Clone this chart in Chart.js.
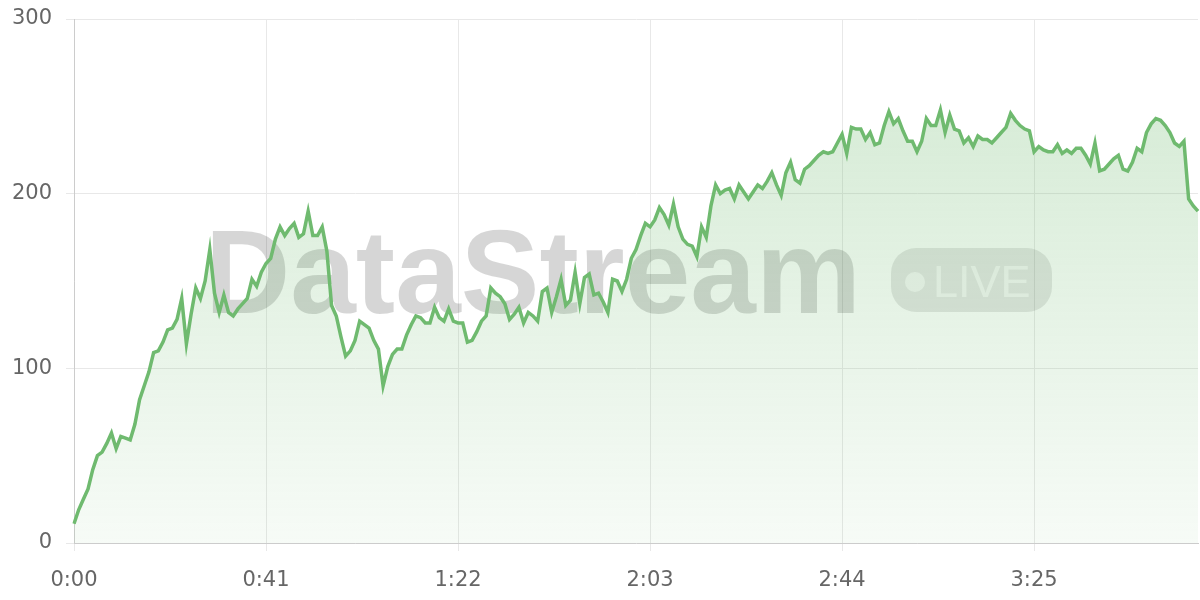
<!DOCTYPE html>
<html>
<head>
<meta charset="utf-8">
<script src="https://cdn.jsdelivr.net/npm/chart.js@4.4.1/dist/chart.umd.min.js"></script>
<style>
  body { margin: 0; background: #fff; }
  #wrap { width: 1200px; height: 600px; position: relative; }
</style>
</head>
<body>
<div id="wrap"><canvas id="chart"></canvas></div>
<script>
// one reading per second, 0:00 .. 4:00
const rateValues = [
  11, 19, 25, 31, 42, 50, 52, 57, 63, 54,
  61, 60, 59, 68, 82, 90, 98, 109, 110, 115,
  122, 123, 128, 140, 114, 131, 146, 140, 150, 168,
  143, 132, 142, 132, 130, 134, 137, 140, 151, 147,
  155, 160, 163, 174, 181, 176, 180, 183, 175, 177,
  190, 176, 176, 181, 167, 136, 130, 118, 107, 110,
  116, 127, 125, 123, 116, 111, 90, 101, 108, 111,
  111, 119, 125, 130, 129, 126, 126, 135, 129, 127,
  134, 127, 126, 126, 115, 116, 121, 127, 130, 146,
  143, 141, 137, 128, 131, 135, 126, 132, 130, 127,
  144, 146, 132, 141, 151, 136, 139, 155, 137, 152,
  154, 142, 143, 138, 132, 151, 150, 144, 151, 163,
  168, 176, 183, 181, 185, 192, 188, 182, 194, 181,
  174, 171, 170, 164, 181, 175, 193, 205, 200, 202,
  203, 197, 205, 201, 197, 201, 205, 203, 207, 212,
  205, 199, 212, 218, 208, 206, 214, 216, 219, 222,
  224, 223, 224, 229, 234, 223, 238, 237, 237, 231,
  235, 228, 229, 239, 247, 240, 243, 236, 230, 230,
  224, 230, 243, 239, 239, 248, 235, 245, 237, 236,
  229, 232, 227, 233, 231, 231, 229, 232, 235, 238,
  246, 242, 239, 237, 236, 224, 227, 225, 224, 224,
  228, 223, 225, 223, 226, 226, 222, 217, 229, 213,
  214, 217, 220, 222, 214, 213, 218, 226, 224, 235,
  240, 243, 242, 239, 235, 229, 227, 230, 197, 193,
  190
];

const timeLabels = [];
for (let s = 0; s < rateValues.length; s++) {
  timeLabels.push(Math.floor(s / 60) + ':' + String(s % 60).padStart(2, '0'));
}

const yTicks = [0, 100, 200, 300];
const watermarkText = 'DataStream';
const badgeText = 'LIVE';

const lineColor = '#6fba6f';
const tickFont = { family: 'DejaVu Sans', size: 21 };

const watermark = {
  id: 'watermark',
  beforeDatasetsDraw(chart) {
    const ctx = chart.ctx;
    ctx.save();
    ctx.font = 'bold 118px "Liberation Sans"';
    ctx.fillStyle = 'rgba(0,0,0,0.16)';
    ctx.textBaseline = 'alphabetic';
    ctx.fillText(watermarkText, 205, 313);

    // LIVE badge
    const bx = 891, by = 248, bw = 161, bh = 64;
    ctx.fillStyle = 'rgba(0,0,0,0.1)';
    ctx.beginPath();
    ctx.roundRect(bx, by, bw, bh, 25);
    ctx.fill();
    ctx.fillStyle = 'rgba(255,255,255,0.65)';
    ctx.beginPath();
    ctx.arc(bx + 24, by + 34, 10, 0, Math.PI * 2);
    ctx.fill();
    ctx.font = '45px "Liberation Sans"';
    ctx.fillText(badgeText, bx + 42, by + 49);
    ctx.restore();
  }
};

new Chart(document.getElementById('chart'), {
  type: 'line',
  data: {
    labels: timeLabels,
    datasets: [{
      data: rateValues,
      borderColor: lineColor,
      borderWidth: 3.5,
      pointRadius: 0,
      tension: 0,
      fill: 'origin',
      backgroundColor: (c) => {
        const area = c.chart.chartArea;
        if (!area) return 'rgba(111,186,111,0.2)';
        const g = c.chart.ctx.createLinearGradient(0, area.top, 0, area.bottom);
        g.addColorStop(0, 'rgba(111,186,111,0.32)');
        g.addColorStop(1, 'rgba(111,186,111,0.06)');
        return g;
      }
    }]
  },
  options: {
    responsive: true,
    maintainAspectRatio: false,
    animation: false,
    layout: { padding: { top: 19, right: 2, left: 0, bottom: 0 } },
    plugins: { legend: { display: false }, tooltip: { enabled: false } },
    scales: {
      x: {
        afterFit: (s) => { s.height = 57; s.paddingLeft = 0; s.paddingRight = 0; },
        grid: { color: '#e8e8e8', tickLength: 8 },
        border: { color: '#cccccc' },
        ticks: { color: '#666', font: tickFont, maxRotation: 0, autoSkip: true, maxTicksLimit: 6, padding: 17 }
      },
      y: {
        min: 0,
        max: 300,
        afterFit: (s) => { s.width = 74; s.paddingTop = 0; s.paddingBottom = 0; },
        grid: { color: '#e8e8e8', tickLength: 8 },
        border: { color: '#cccccc' },
        afterBuildTicks: (axis) => { axis.ticks = yTicks.map(v => ({ value: v })); },
        ticks: { color: '#666', font: tickFont, padding: 14 }
      }
    }
  },
  plugins: [watermark]
});
</script>
</body>
</html>
